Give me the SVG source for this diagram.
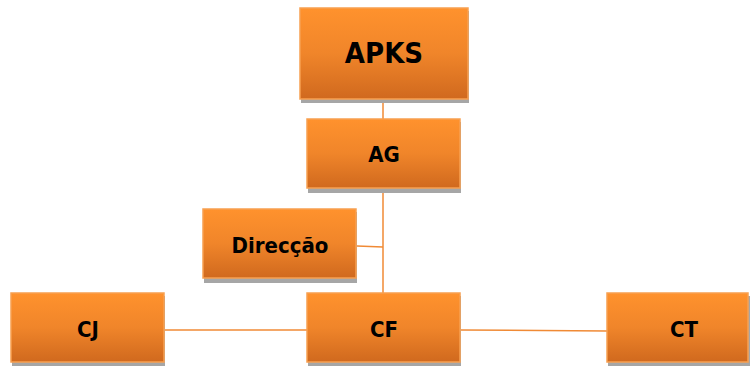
<svg xmlns="http://www.w3.org/2000/svg" width="750" height="367" viewBox="0 0 750 367">
<defs>
<linearGradient id="g" x1="0" y1="0" x2="0" y2="1">
<stop offset="0" stop-color="#FF922D"/>
<stop offset="0.5" stop-color="#F0852A"/>
<stop offset="1" stop-color="#D0691E"/>
</linearGradient>
<style>
.box{fill:url(#g);stroke:#F8A050;stroke-width:1.5}
.sh{fill:#A6A6A6}
.t{font-family:"DejaVu Sans Condensed","DejaVu Sans",sans-serif;font-weight:bold;fill:#000;text-anchor:middle}
.c{stroke:#F08A35;stroke-width:1.5;fill:none}
</style>
</defs>
<g id="connectors">
<line class="c" x1="383" y1="99" x2="383" y2="293"/>
<line class="c" x1="357" y1="246" x2="383" y2="247"/>
<line class="c" x1="165" y1="330" x2="307" y2="330"/>
<line class="c" x1="461" y1="330" x2="607" y2="331"/>
</g>
<g id="APKS">
<rect class="sh" x="301" y="11" width="168" height="92"/>
<rect class="box" x="300" y="8" width="168" height="91"/>
<text class="t" x="384" y="63" font-size="29">APKS</text>
</g>
<g id="AG">
<rect class="sh" x="308" y="122" width="153" height="71"/>
<rect class="box" x="307" y="119" width="153" height="69"/>
<text class="t" x="384" y="162" font-size="22">AG</text>
</g>
<g id="Direccao">
<rect class="sh" x="204" y="212" width="153" height="71"/>
<rect class="box" x="203" y="209" width="153" height="69"/>
<text class="t" x="280" y="253" font-size="22">Direcção</text>
</g>
<g id="CJ">
<rect class="sh" x="12" y="296" width="153" height="70"/>
<rect class="box" x="11" y="293" width="153" height="69"/>
<text class="t" x="88" y="337" font-size="22">CJ</text>
</g>
<g id="CF">
<rect class="sh" x="308" y="296" width="153" height="70"/>
<rect class="box" x="307" y="293" width="153" height="69"/>
<text class="t" x="384" y="337" font-size="22">CF</text>
</g>
<g id="CT">
<rect class="sh" x="608" y="296" width="142" height="70"/>
<rect class="box" x="607" y="293" width="141" height="69"/>
<text class="t" x="684" y="337" font-size="22">CT</text>
</g>
</svg>
